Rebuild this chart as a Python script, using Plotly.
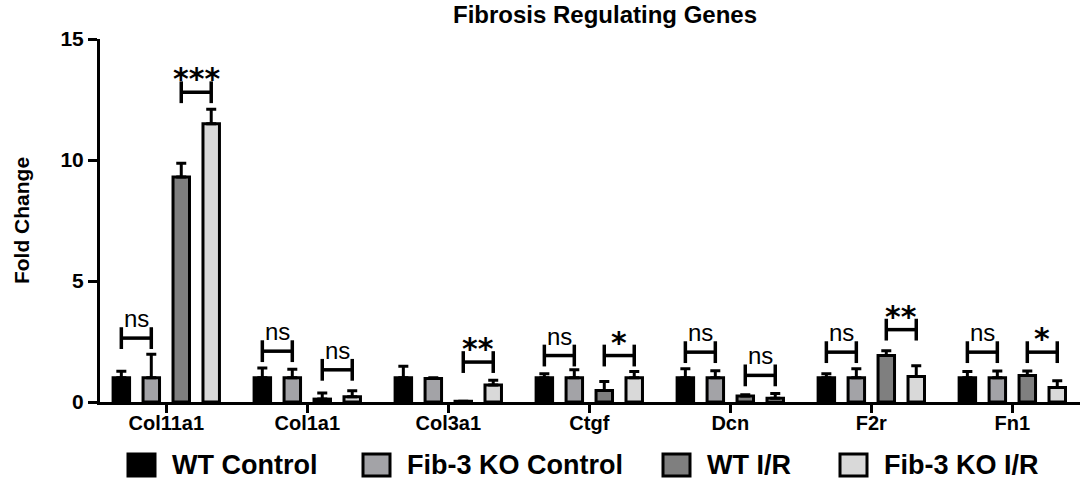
import plotly.graph_objects as go

# valeurs
genes = ["Col11a1", "Col1a1", "Col3a1", "Ctgf", "Dcn", "F2r", "Fn1"]
series = ["WT Control", "Fib-3 KO Control", "WT I/R", "Fib-3 KO I/R"]

wt_ctrl = [1.0, 1.0, 1.0, 1.0, 1.0, 1.0, 1.0]
wt_ctrl_err = [0.27, 0.40, 0.48, 0.17, 0.37, 0.17, 0.26]
ko_ctrl = [1.0, 1.0, 0.97, 1.0, 1.0, 1.0, 1.0]
ko_ctrl_err = [0.97, 0.35, 0.03, 0.33, 0.29, 0.37, 0.28]
wt_ir = [9.3, 0.12, 0.03, 0.48, 0.25, 1.92, 1.1]
wt_ir_err = [0.57, 0.25, 0.0, 0.37, 0.05, 0.2, 0.18]
ko_ir = [11.5, 0.22, 0.7, 1.0, 0.15, 1.05, 0.6]
ko_ir_err = [0.6, 0.25, 0.2, 0.26, 0.2, 0.45, 0.28]

# crochets de significativité (controles, I/R)
sig_ctrl = ["ns", "ns", None, "ns", "ns", "ns", "ns"]
sig_ctrl_y = [2.64, 2.1, None, 1.92, 2.06, 2.06, 2.06]
sig_ir = ["***", "ns", "**", "*", "ns", "**", "*"]
sig_ir_y = [12.8, 1.33, 1.65, 1.92, 1.1, 2.99, 2.06]

couleurs = ["#000000", "#a3a3a7", "#7f7f7f", "#d9d9d9"]
valeurs = [wt_ctrl, ko_ctrl, wt_ir, ko_ir]
erreurs = [wt_ctrl_err, ko_ctrl_err, wt_ir_err, ko_ir_err]

bargap = 0.15
x = list(range(len(genes)))

fig = go.Figure()
for nom, v, e, c in zip(series, valeurs, erreurs, couleurs):
    fig.add_trace(go.Bar(
        x=x, y=v, name=nom, marker_color=c,
        marker_line=dict(color="black", width=3),
        error_y=dict(type="data", array=e, arrayminus=[0] * len(e), symmetric=False,
                     color="black", thickness=3, width=5),
        showlegend=False,
    ))

# position des barres dans chaque groupe
slot = (1 - bargap) / len(series)
def centre(i, k):
    return i - (1 - bargap) / 2 + slot * (k + 0.5)

formes = []
annots = []
def crochet(xa, xb, h, label):
    d = 0.45
    ligne = dict(color="black", width=3.5)
    formes.append(dict(type="line", x0=xa, x1=xb, y0=h, y1=h, line=ligne))
    formes.append(dict(type="line", x0=xa, x1=xa, y0=h - d, y1=h + d, line=ligne))
    formes.append(dict(type="line", x0=xb, x1=xb, y0=h - d, y1=h + d, line=ligne))
    if label == "ns":
        annots.append(dict(x=(xa + xb) / 2, y=h, text="ns", showarrow=False, yanchor="bottom",
                           yshift=4, font=dict(size=24, color="black", family="Liberation Sans, Arial")))
    else:
        annots.append(dict(x=(xa + xb) / 2, y=h, text="<b>" + label + "</b>", showarrow=False,
                           yanchor="bottom", yshift=-6,
                           font=dict(size=30, color="black", family="DejaVu Sans")))

for i in x:
    if sig_ctrl[i]:
        crochet(centre(i, 0), centre(i, 1), sig_ctrl_y[i], sig_ctrl[i])
    if sig_ir[i]:
        crochet(centre(i, 2), centre(i, 3), sig_ir_y[i], sig_ir[i])

# légende dessinée à la main (grands carrés)
def px_x(p):
    return (p - 100) / 980
def px_y(p):
    return (402 - p) / 363

leg_x = [128, 363, 663, 840]
for nom, c, lx in zip(series, couleurs, leg_x):
    formes.append(dict(type="rect", xref="paper", yref="paper",
                       x0=px_x(lx), x1=px_x(lx + 27), y0=px_y(476), y1=px_y(454),
                       fillcolor=c, line=dict(color="black", width=3)))
    annots.append(dict(xref="paper", yref="paper", x=px_x(lx + 42), y=px_y(465),
                       xanchor="left", yanchor="middle", showarrow=False,
                       text="<b>" + nom + "</b>",
                       font=dict(size=27, color="black", family="Liberation Sans, Arial")))

fig.update_layout(
    barmode="group", bargap=bargap, bargroupgap=0.45,
    width=1084, height=480,
    margin=dict(l=100, r=4, t=39, b=78),
    plot_bgcolor="white", paper_bgcolor="white",
    font=dict(family="Liberation Sans, Arial", color="black"),
    title=dict(text="<b>Fibrosis Regulating Genes</b>", x=605 / 1084, xanchor="center",
               y=1 - 15 / 480, yanchor="middle", font=dict(size=24)),
    shapes=formes, annotations=annots,
)
fig.update_xaxes(
    range=[-0.47, 6.48], tickvals=x, ticktext=["<b>" + g + "</b>" for g in genes],
    tickfont=dict(size=20), showline=True, linecolor="black", linewidth=3,
    ticks="outside", ticklen=8, tickwidth=3, tickcolor="black", showgrid=False, zeroline=False,
    ticklabelstandoff=-7,
)
fig.update_yaxes(
    range=[0, 15], tickvals=[0, 5, 10, 15], ticktext=["<b>0</b>", "<b>5</b>", "<b>10</b>", "<b>15</b>"],
    tickfont=dict(size=21), showline=True, linecolor="black", linewidth=3,
    ticks="outside", ticklen=9, tickwidth=3, tickcolor="black", showgrid=False, zeroline=False,
    title=dict(text="<b>Fold Change</b>", font=dict(size=21), standoff=26),
)

fig.write_html("out.html", config={"displayModeBar": False},
               post_script="document.body.style.margin='0';")
